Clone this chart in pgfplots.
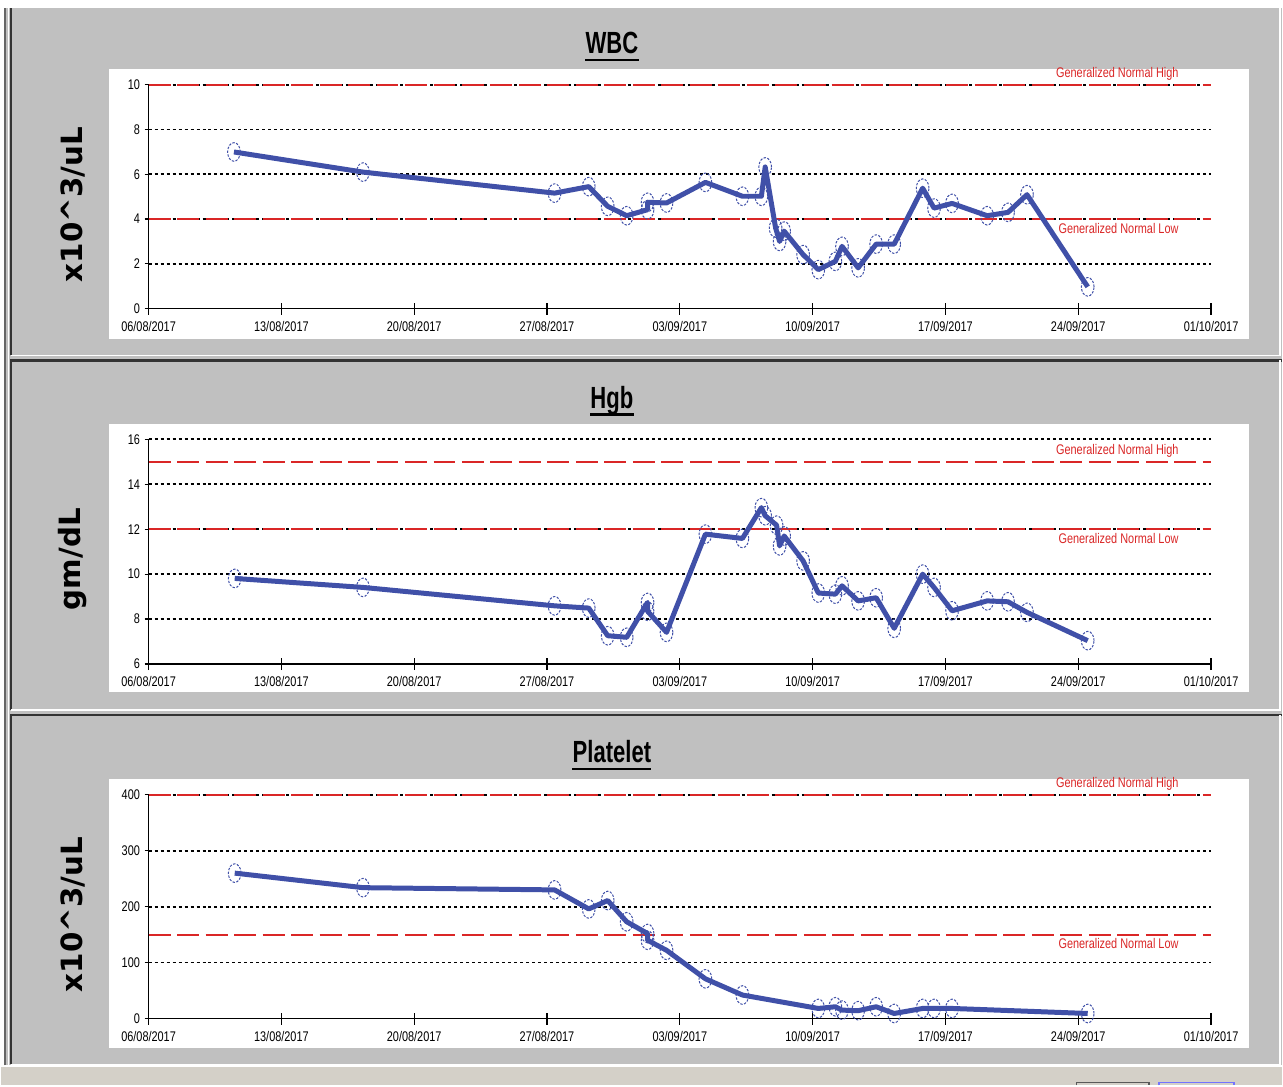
\documentclass[border=0pt]{standalone}
\usepackage{fontspec}
\setmainfont{Liberation Sans}[FakeStretch=0.78]
\newfontfamily\titlefont{Liberation Sans}[FakeStretch=0.72]
\newfontfamily\unitfont{DejaVu Sans}
\usepackage{pgfplots}
\pgfplotsset{compat=1.18}

\definecolor{panelgray}{RGB}{192,192,192}
\definecolor{lineblue}{RGB}{64,80,168}
\definecolor{limred}{RGB}{218,38,38}
\definecolor{barbeige}{RGB}{212,208,200}

% common look of the three lab panels
\pgfplotsset{
  lab/.style={
    scale only axis, width=798pt,
    xmin=0, xmax=56,
    axis x line*=bottom, axis y line*=left,
    axis line style={-, line width=1.1pt},
    clip=false,
    xtick=\empty,
    extra x ticks={0,7,...,56},
    extra x tick labels={06/08/2017,13/08/2017,20/08/2017,27/08/2017,03/09/2017,10/09/2017,17/09/2017,24/09/2017,01/10/2017},
    extra x tick style={major tick length=9pt, xtick align=center,
      xticklabel style={yshift=-1.5pt}},
    ymajorgrids,
    grid style={black, line width=1.35pt, dash pattern=on 2.25pt off 2.25pt},
    ytick align=outside,
    major tick length=3pt,
    tick style={black, line width=0.9pt},
    tick label style={font=\fontsize{10.5}{12}\selectfont},
    /pgf/number format/assume math mode=true,
  },
  limit/.style={limred, line width=1.5pt, dash pattern=on 16.5pt off 4.9pt, forget plot},
  series/.style={lineblue, line width=3.75pt, line join=round,
    mark=o, mark size=7pt,
    mark options={lineblue, line width=0.75pt, dash pattern=on 1.8pt off 1.1pt, xscale=0.68}},
}
\newcommand\hilab[1]{\node[anchor=base east, text=limred, inner sep=0pt,
  font=\fontsize{10.5}{12}\selectfont, yshift=5.25pt] at (axis cs:54.3,#1) {Generalized Normal High};}
\newcommand\lolab[1]{\node[anchor=base east, text=limred, inner sep=0pt,
  font=\fontsize{10.5}{12}\selectfont, yshift=-10.5pt] at (axis cs:54.3,#1) {Generalized Normal Low};}

\begin{document}
\begin{tikzpicture}[x=0.75pt,y=0.75pt]
% window background
\fill[white] (0,0) rectangle (1283,1087);
\fill[panelgray] (3,20) rectangle (1283,1079);
\fill[barbeige] (0,0) rectangle (1283,18);
\draw[white, line width=1.2pt] (0,19) -- (1283,19);
\draw[gray!70!black, line width=1pt] (1077,0) |- (1150,3) -- (1150,0);
\draw[blue!55, line width=1pt] (1160,0) |- (1235,3) -- (1235,0);
\draw[gray!80!black, line width=1.2pt] (4.5,20) -- (4.5,1079);
\draw[white, line width=1pt] (7.5,20) -- (7.5,1079);
% panel frames
\draw[black!80, line width=1.6pt] (10,731) -- (10,1079);
\draw[white, line width=1.2pt] (10,731) -- (1281,731) -- (1281,1079);
\draw[black!80, line width=1.6pt] (10,376) |- (1283,726);
\draw[white, line width=1.2pt] (10,376) -- (1281,376) -- (1281,726);
\draw[black!80, line width=1.6pt] (10,21) |- (1283,371);
\draw[white, line width=1.2pt] (10,21) -- (1281,21) -- (1281,371);
% white plot boxes
\fill[white] (108,747) rectangle (1250,1018);
\fill[white] (108,394) rectangle (1250,662);
\fill[white] (108,37) rectangle (1250,307);

% titles
\foreach \t/\yb in {WBC/1033, Hgb/678, Platelet/323}{
  \node[anchor=base, inner sep=0pt, font=\titlefont\bfseries\fontsize{23}{26}\selectfont] (T) at (612,\yb) {\t};
  \draw[line width=1.9pt] ([yshift=-4.5pt]T.base west) -- ([yshift=-4.5pt]T.base east);
}
% unit labels
\node[rotate=90, font=\unitfont\bfseries\fontsize{22}{24}\selectfont] at (72,882) {x10\textasciicircum3/uL};
\node[rotate=90, font=\unitfont\bfseries\fontsize{22}{24}\selectfont] at (72,527) {gm/dL};
\node[rotate=90, font=\unitfont\bfseries\fontsize{22}{24}\selectfont] at (72,171) {x10\textasciicircum3/uL};

% WBC
\begin{axis}[lab, at={(111pt,583.5pt)}, anchor=south west, height=168pt,
  ymin=0, ymax=10, ytick={0,2,...,10}]
\addplot[limit] coordinates {(0,10) (56,10)};
\addplot[limit] coordinates {(0,4) (56,4)};
\addplot[series] coordinates {
 (4.5,7.0) (11.3,6.1) (21.4,5.16) (23.2,5.45) (24.2,4.57) (25.2,4.15)
 (26.3,4.42) (26.3,4.75) (27.3,4.72) (29.35,5.64) (31.3,5.02) (32.3,5.02)
 (32.5,6.33) (33.05,3.6) (33.26,3.0) (33.5,3.46) (34.5,2.41) (35.3,1.74)
 (36.2,2.11) (36.55,2.78) (37.4,1.82) (38.35,2.88) (39.3,2.88) (40.8,5.38)
 (41.4,4.49) (42.35,4.7) (44.2,4.15) (45.3,4.3) (46.3,5.09) (49.5,0.97)
};
\hilab{10}
\lolab{4}
\end{axis}

% Hgb
\begin{axis}[lab, at={(111pt,316.5pt)}, anchor=south west, height=168.75pt,
  ymin=6, ymax=16, ytick={6,8,...,16}]
\addplot[limit] coordinates {(0,15) (56,15)};
\addplot[limit] coordinates {(0,12) (56,12)};
\addplot[series] coordinates {
 (4.54,9.81) (11.3,9.41) (21.4,8.59) (23.2,8.49) (24.2,7.26) (25.2,7.19)
 (26.3,8.74) (26.3,8.35) (27.3,7.41) (29.35,11.78) (31.3,11.59) (32.3,12.96)
 (32.5,12.6) (33.1,12.18) (33.26,11.26) (33.5,11.7) (34.5,10.59) (35.3,9.16)
 (36.2,9.11) (36.55,9.48) (37.4,8.81) (38.35,8.95) (39.3,7.59) (40.8,10.0)
 (41.4,9.41) (42.35,8.37) (44.2,8.81) (45.3,8.77) (46.3,8.3) (49.5,7.04)
};
\hilab{15}
\lolab{12}
\end{axis}

% Platelet
\begin{axis}[lab, at={(111pt,50.25pt)}, anchor=south west, height=168pt,
  ymin=0, ymax=400, ytick={0,100,...,400}]
\addplot[limit] coordinates {(0,400) (56,400)};
\addplot[limit] coordinates {(0,150) (56,150)};
\addplot[series] coordinates {
 (4.54,260) (11.3,234) (21.4,230) (23.2,196) (24.2,211) (25.2,173)
 (26.3,152) (26.3,140) (27.3,122) (29.35,71) (31.3,42) (35.3,18)
 (36.2,21) (36.55,15) (37.4,14) (38.35,21) (39.3,9) (40.8,18)
 (41.4,18) (42.35,18) (49.5,9)
};
\hilab{400}
\lolab{150}
\end{axis}
\end{tikzpicture}
\end{document}
